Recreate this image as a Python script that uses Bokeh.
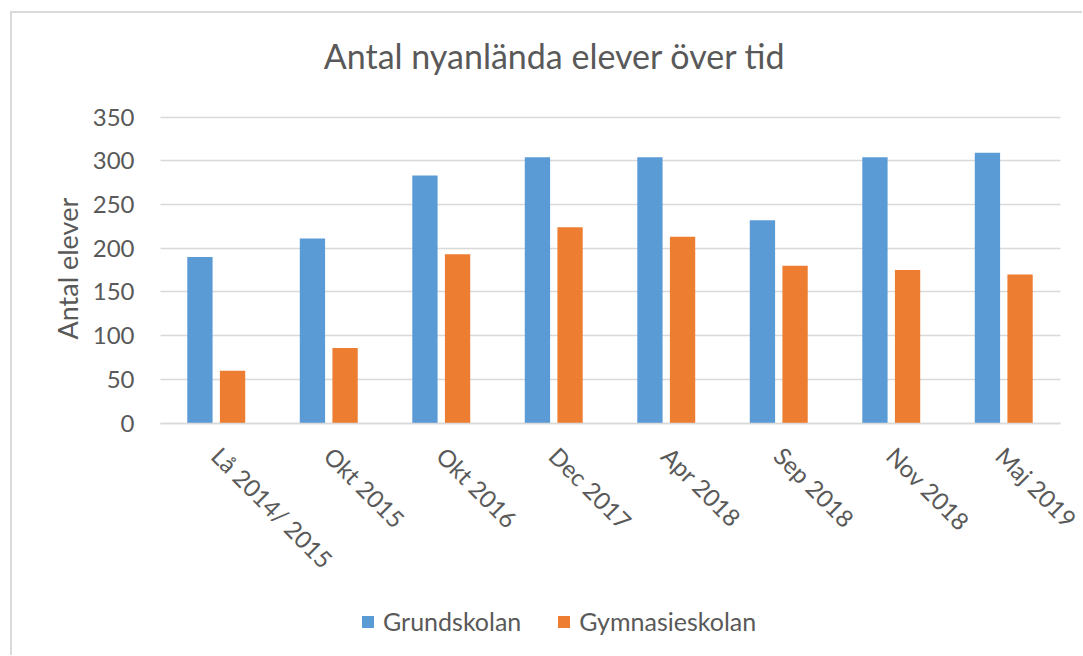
import math
from bokeh.plotting import figure
from bokeh.models import (FactorRange, Range1d, FixedTicker, Legend, LegendItem,
                          Label, Title)
from bokeh.transform import dodge
from bokeh.embed import file_html
from bokeh.resources import INLINE

categories = ["Lå 2014/ 2015", "Okt 2015", "Okt 2016", "Dec 2017",
              "Apr 2018", "Sep 2018", "Nov 2018", "Maj 2019"]
grundskolan = [190, 211, 283, 304, 304, 232, 304, 309]
gymnasieskolan = [60, 86, 193, 224, 213, 180, 175, 170]
y_ticks = [0, 50, 100, 150, 200, 250, 300, 350]
title_text = "Antal nyanlända elever över tid"
y_label = "Antal elever"

FONT = "Lato"
TXT = "#595959"
GRID = "#d9d9d9"

# layout (pixels): the frame covers the whole chart height so that the
# x axis (fixed at y=0), the title and the legend can live inside it.
N = len(categories)
CAT_PX = 112.5
PAD = 0.05                      # 0.2 category each side
FRAME_W = round(CAT_PX * N * (1 + PAD))
FRAME_H = 634
PX_PER_UNIT = 306.2 / 350.0
Y_TOP = 350 + 103.5 / PX_PER_UNIT
Y_BOTTOM = -(FRAME_H - 409.7) / PX_PER_UNIT

p = figure(frame_width=FRAME_W, frame_height=FRAME_H,
           x_range=FactorRange(factors=categories, range_padding=PAD),
           y_range=Range1d(Y_BOTTOM, Y_TOP),
           output_backend="svg", toolbar_location=None,
           min_border_left=125, min_border_right=0,
           min_border_top=0, min_border_bottom=8)

p.styles = {"margin-left": "10px", "margin-top": "11px",
            "border-left": "2px solid #d9d9d9", "border-top": "2px solid #d9d9d9"}

p.outline_line_color = None
p.background_fill_color = "white"
p.border_fill_color = "white"

data = dict(cat=categories, g=grundskolan, y=gymnasieskolan)
r1 = p.vbar(x=dodge("cat", -0.145, range=p.x_range), top="g", width=0.225,
            source=data, fill_color="#5B9BD5", line_color=None)
r2 = p.vbar(x=dodge("cat", 0.145, range=p.x_range), top="y", width=0.225,
            source=data, fill_color="#ED7D31", line_color=None)

# chart title
p.add_layout(Label(x=3.51, y=420, text=title_text, text_align="center",
                   text_baseline="alphabetic", text_font=FONT,
                   text_font_size="34px", text_color=TXT))

# y axis
p.yaxis.ticker = FixedTicker(ticks=y_ticks)
p.yaxis.axis_line_color = None
p.yaxis.major_tick_line_color = None
p.yaxis.minor_tick_line_color = None
p.yaxis.major_label_standoff = -3
p.yaxis.major_label_text_font = FONT
p.yaxis.major_label_text_font_size = "24px"
p.yaxis.major_label_text_color = TXT

p.add_layout(Title(text=y_label, align="left", offset=308, standoff=11,
                   text_font=FONT, text_font_size="27px",
                   text_font_style="normal", text_color=TXT), "left")

# x axis, drawn at y = 0 inside the frame
p.xaxis.fixed_location = 0
p.xaxis.bounds = (0, N)
p.xaxis.axis_line_color = GRID
p.xaxis.axis_line_width = 1.5
p.xaxis.major_tick_line_color = None
p.xaxis.minor_tick_line_color = None
p.xaxis.major_label_orientation = -math.pi / 4
p.xaxis.major_label_standoff = 22
p.xaxis.major_label_text_font = FONT
p.xaxis.major_label_text_font_size = "24px"
p.xaxis.major_label_text_color = TXT

p.xgrid.grid_line_color = None
p.ygrid.grid_line_color = GRID
p.ygrid.grid_line_width = 1.5
p.ygrid.cross_bounds = (0, N)

legend = Legend(items=[LegendItem(label="Grundskolan", renderers=[r1]),
                       LegendItem(label="Gymnasieskolan", renderers=[r2])],
                orientation="horizontal", location=(201 + 22, 11),
                border_line_color=None, background_fill_alpha=0,
                padding=0, margin=0, spacing=35,
                glyph_width=15, glyph_height=15, label_standoff=8,
                label_text_font=FONT, label_text_font_size="25px",
                label_text_color=TXT)
p.add_layout(legend, "center")

open("out.html", "w").write(file_html(p, INLINE))
